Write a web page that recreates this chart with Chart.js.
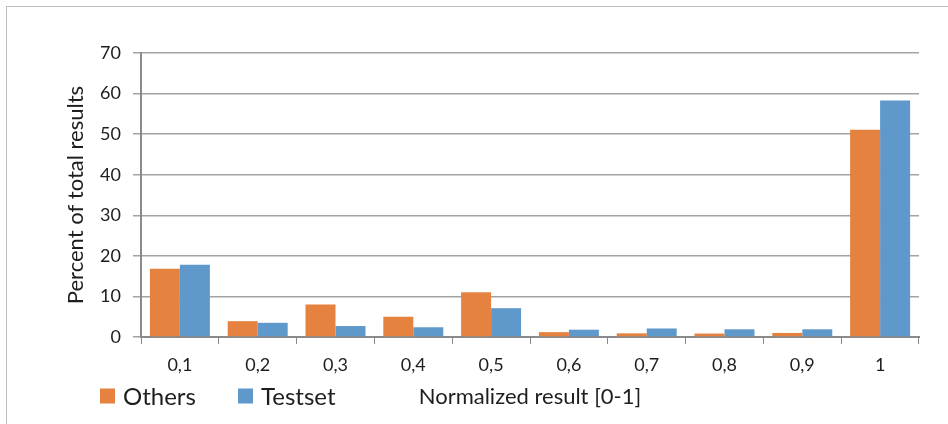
<!DOCTYPE html>
<html>
<head>
<meta charset="utf-8">
<title>Normalized result distribution</title>
<script src="https://cdn.jsdelivr.net/npm/chart.js@4.4.1/dist/chart.umd.min.js"></script>
<style>
  html, body { margin: 0; padding: 0; background: #ffffff; overflow: hidden; }
  #wrap { position: relative; width: 948px; height: 424px; }
  #frame { position: absolute; left: 6px; top: 6px; width: 980px; height: 460px;
           border: 1px solid #bdbdbd; box-sizing: border-box; }
  canvas { position: absolute; left: 0; top: 0; }
</style>
</head>
<body>
<div id="wrap">
  <div id="frame"></div>
  <canvas id="chart" width="948" height="424"></canvas>
</div>
<script>
// Categories along the x axis (normalized result buckets)
const categories = ['0,1', '0,2', '0,3', '0,4', '0,5', '0,6', '0,7', '0,8', '0,9', '1'];

// Percent of total results per bucket
const othersValues  = [16.8, 3.9, 8.0, 5.0, 11.0, 1.2, 0.9, 0.85, 1.0, 51.1];
const testsetValues = [17.8, 3.5, 2.7, 2.4, 7.1, 1.8, 2.1, 1.9, 1.9, 58.3];

// Series names
const seriesNames = ['Others', 'Testset'];

// Y axis range and ticks
const yMin = 0;
const yMax = 70;
const yStep = 10;

const axisTitleX = 'Normalized result [0-1]';
const axisTitleY = 'Percent of total results';

const ORANGE = '#E5823F';
const BLUE = '#5F98CB';
const GRID = '#a3a3a3';
const AXIS = '#8a8a8a';
const TEXT = '#1e1e1e';

// Legend row drawn beneath the axis, to the left of the x-axis title
const bottomLegend = {
  id: 'bottomLegend',
  afterDraw(chart) {
    const ctx = chart.ctx;
    const starts = [100, 238];
    const boxSize = 15;
    const midY = 396;
    ctx.save();
    ctx.font = '24px Lato';
    ctx.textBaseline = 'middle';
    ctx.textAlign = 'left';
    chart.data.datasets.forEach((ds, i) => {
      const x = starts[i];
      ctx.fillStyle = ds.backgroundColor;
      ctx.fillRect(x, midY - boxSize / 2, boxSize, boxSize);
      ctx.fillStyle = TEXT;
      ctx.fillText(ds.label, x + boxSize + 8, midY + 1);
    });
    ctx.restore();
  }
};

function draw() {
  Chart.defaults.font.family = 'Lato';
  Chart.defaults.color = TEXT;

  new Chart(document.getElementById('chart'), {
    type: 'bar',
    data: {
      labels: categories,
      datasets: [
        { label: seriesNames[0], data: othersValues, backgroundColor: ORANGE,
          categoryPercentage: 0.771, barPercentage: 1.0 },
        { label: seriesNames[1], data: testsetValues, backgroundColor: BLUE,
          categoryPercentage: 0.771, barPercentage: 1.0 }
      ]
    },
    options: {
      responsive: false,
      animation: false,
      layout: { padding: { left: 0, top: 53, right: 29, bottom: 0 } },
      plugins: {
        legend: { display: false },
        tooltip: { enabled: false }
      },
      scales: {
        x: {
          grid: { display: true, drawOnChartArea: false, drawTicks: true,
                  tickLength: 7, color: AXIS, lineWidth: 1, offset: true },
          border: { display: true, color: AXIS, width: 2 },
          ticks: { font: { size: 18 }, color: TEXT, padding: 10, maxRotation: 0 },
          title: { display: true, text: axisTitleX, font: { size: 22 }, color: TEXT,
                   padding: { top: 0, bottom: 14 } },
          afterFit(scale) { scale.height = 87; }
        },
        y: {
          min: yMin,
          max: yMax,
          ticks: { stepSize: yStep, font: { size: 18 }, color: TEXT, padding: 12 },
          grid: { color: GRID, lineWidth: 1.5, drawTicks: true, tickLength: 8 },
          border: { display: true, color: AXIS, width: 2 },
          title: { display: true, text: axisTitleY, font: { size: 22 }, color: TEXT,
                   padding: { top: 63, bottom: 0 } },
          afterFit(scale) { scale.width = 141; }
        }
      }
    },
    plugins: [bottomLegend]
  });
}

if (document.fonts && document.fonts.load) {
  Promise.all([document.fonts.load('18px Lato'), document.fonts.load('24px Lato')])
    .then(draw, draw);
} else {
  draw();
}
</script>
</body>
</html>
